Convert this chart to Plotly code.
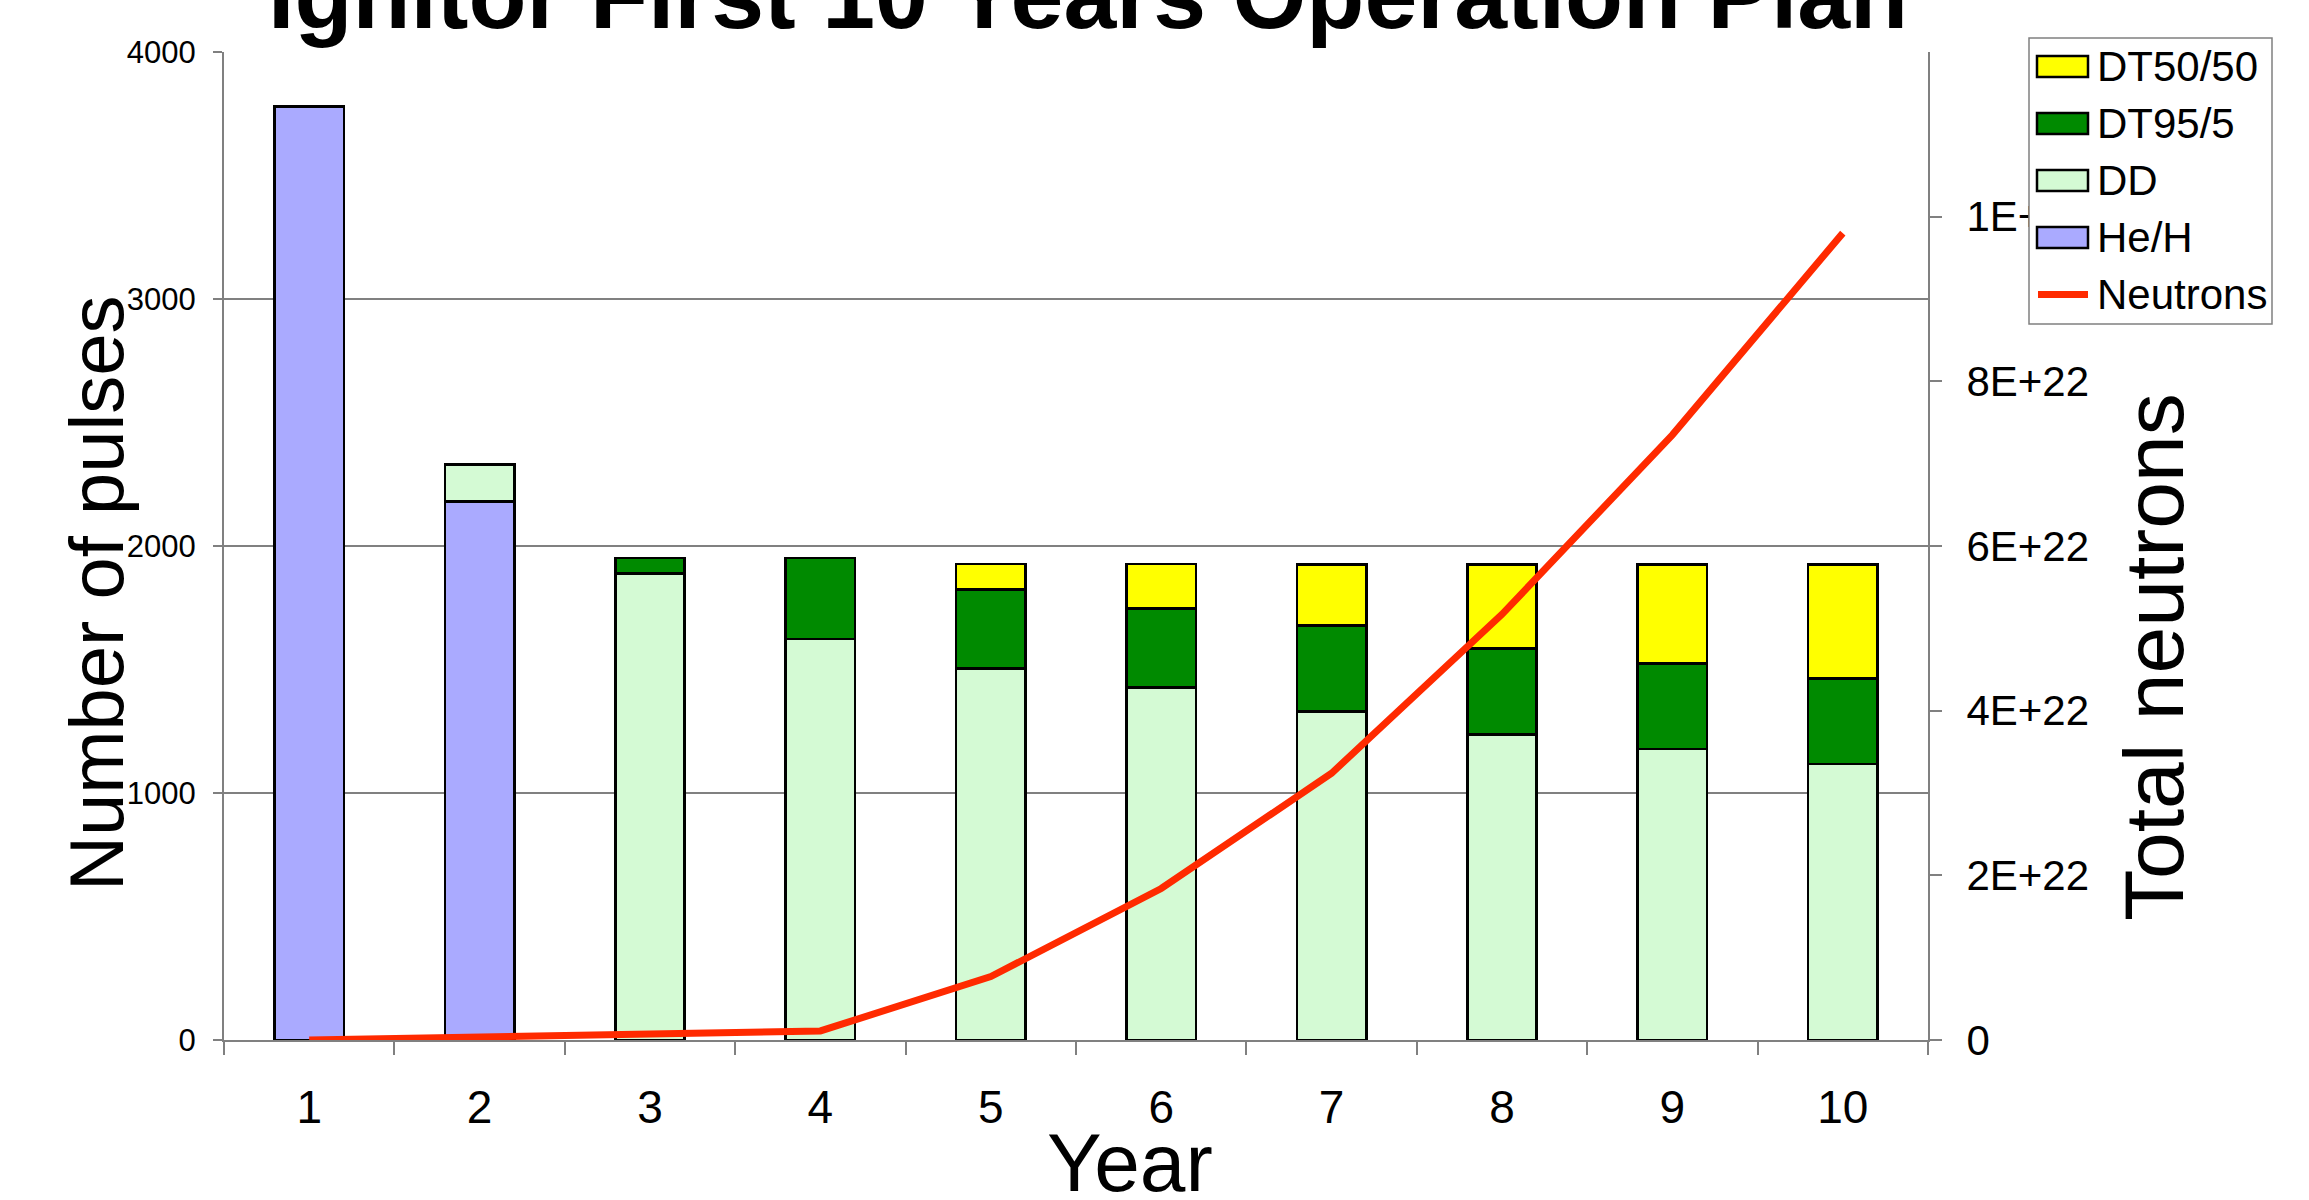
import plotly.graph_objects as go

# ---------------- data ----------------
years = ["1", "2", "3", "4", "5", "6", "7", "8", "9", "10"]
he_h = [3780, 2180, 0, 0, 0, 0, 0, 0, 0, 0]
dd = [0, 150, 1890, 1623, 1504, 1427, 1331, 1238, 1178, 1118]
dt95_5 = [0, 0, 62, 329, 321, 320, 347, 347, 346, 347]
dt50_50 = [0, 0, 0, 0, 102, 180, 247, 341, 402, 461]
neutrons = [0, 3.0e20, 7.0e20, 1.1e21, 7.7e21, 1.84e22, 3.24e22, 5.17e22, 7.35e22, 9.8e22]

left_ticks = [0, 1000, 2000, 3000, 4000]
right_tickvals = [0, 2e22, 4e22, 6e22, 8e22, 1e23]
right_ticktext = ["0", "2E+22", "4E+22", "6E+22", "8E+22", "1E+23"]

series_names = ["He/H", "DD", "DT95/5", "DT50/50"]
series_colors = ["#aaaaff", "#d4fad4", "#008a00", "#ffff00"]
line_name = "Neutrons"
line_color = "#ff2a00"

title_text = "Ignitor First 10 Years Operation Plan"
x_title = "Year"
y_title = "Number of pulses"
y2_title = "Total neutrons"

# ---------------- layout geometry (pixels) ----------------
W, H = 2309, 1200
PL, PR, PT, PB = 224, 1928, 52, 1040
FONT = "Arial, Liberation Sans, sans-serif"
GRAY = "#808080"


def px(xp):
    return (xp - PL) / (PR - PL)


def py(yp):
    return (PB - yp) / (PB - PT)


fig = go.Figure()
for name, vals, col in zip(series_names, [he_h, dd, dt95_5, dt50_50], series_colors):
    fig.add_trace(go.Bar(
        x=years, y=vals, name=name,
        marker=dict(color=col, line=dict(color="black", width=2.7)),
        showlegend=False,
    ))

fig.add_trace(go.Scatter(
    x=years, y=neutrons, name=line_name, yaxis="y2", mode="lines",
    line=dict(color=line_color, width=7), showlegend=False,
))

fig.update_layout(
    width=W, height=H,
    template="none",
    barmode="stack",
    bargap=0.593,
    paper_bgcolor="white",
    plot_bgcolor="white",
    margin=dict(l=PL, r=W - PR, t=PT, b=H - PB, autoexpand=False),
    font=dict(family=FONT, color="black"),
    showlegend=False,
    xaxis=dict(
        type="category", categoryarray=years, range=[-0.5, 9.5],
        tickson="boundaries", ticks="outside", ticklen=13, tickwidth=1.5,
        tickcolor=GRAY, showline=True, linecolor=GRAY, linewidth=2,
        showgrid=False, zeroline=False, tickfont=dict(size=46, family=FONT),
        ticklabelstandoff=26, automargin=False,
    ),
    yaxis=dict(
        range=[0, 4000], tickvals=left_ticks, ticks="outside", ticklen=9,
        tickwidth=1.5, tickcolor=GRAY, showline=True, linecolor=GRAY, linewidth=2,
        showgrid=True, gridcolor=GRAY, gridwidth=1.5, zeroline=False,
        tickfont=dict(size=31, family=FONT), ticklabelstandoff=11, automargin=False,
    ),
    yaxis2=dict(
        overlaying="y", side="right", range=[0, 1.2e23],
        tickvals=right_tickvals, ticktext=right_ticktext,
        ticks="outside", ticklen=12, tickwidth=1.5, tickcolor=GRAY,
        showline=True, linecolor=GRAY, linewidth=2, showgrid=False, zeroline=False,
        tickfont=dict(size=42, family=FONT), ticklabelstandoff=16, automargin=False,
    ),
)

annotations = [
    dict(text=f"<b>{title_text}</b>", x=px(1088), y=py(50), xref="paper", yref="paper",
         xanchor="center", yanchor="bottom", showarrow=False,
         font=dict(size=95, family=FONT, color="black")),
    dict(text=x_title, x=px(1130), y=py(1162), xref="paper", yref="paper",
         xanchor="center", yanchor="middle", showarrow=False,
         font=dict(size=82, family=FONT, color="black")),
    dict(text=y_title, x=px(96), y=py(593), xref="paper", yref="paper",
         xanchor="center", yanchor="middle", textangle=-90, showarrow=False,
         font=dict(size=76, family=FONT, color="black")),
    dict(text=y2_title, x=px(2154), y=py(657), xref="paper", yref="paper",
         xanchor="center", yanchor="middle", textangle=-90, showarrow=False,
         font=dict(size=84, family=FONT, color="black")),
]

# ---------------- custom legend ----------------
shapes = [dict(type="rect", xref="paper", yref="paper", layer="above",
               x0=px(2029), x1=px(2272), y0=py(324), y1=py(38),
               fillcolor="white", line=dict(color=GRAY, width=1.5))]
legend_items = list(zip(series_names, series_colors))[::-1] + [(line_name, line_color)]
for i, (name, col) in enumerate(legend_items):
    yc = 66.5 + 57 * i
    if name == line_name:
        shapes.append(dict(type="line", xref="paper", yref="paper", layer="above",
                           x0=px(2038), x1=px(2088), y0=py(yc), y1=py(yc),
                           line=dict(color=col, width=7)))
    else:
        shapes.append(dict(type="rect", xref="paper", yref="paper", layer="above",
                           x0=px(2037), x1=px(2088), y0=py(yc + 10.5), y1=py(yc - 10.5),
                           fillcolor=col, line=dict(color="black", width=2.5)))
    annotations.append(dict(text=name, x=px(2095), y=py(yc), xref="paper", yref="paper",
                            xanchor="left", yanchor="middle", showarrow=False,
                            font=dict(size=42, family=FONT, color="black")))

fig.update_layout(annotations=annotations, shapes=shapes)
fig.write_html("out.html")
